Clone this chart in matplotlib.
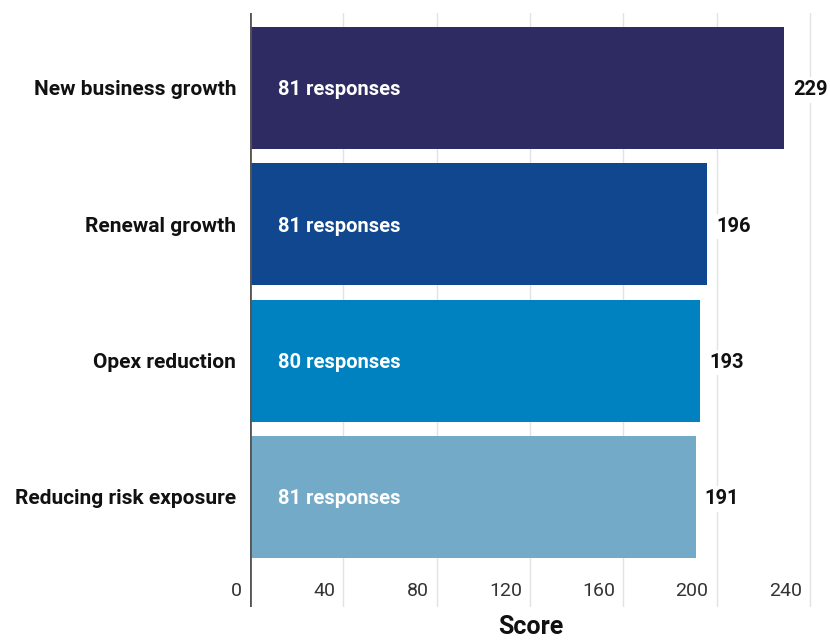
import matplotlib.pyplot as plt
from matplotlib.transforms import offset_copy

plt.rcParams['font.family'] = ['Roboto', 'DejaVu Sans']

categories = ["New business growth", "Renewal growth", "Opex reduction", "Reducing risk exposure"]
scores = [229, 196, 193, 191]
responses = [81, 81, 80, 81]
bar_colors = ["#2d2b62", "#11478e", "#0082c1", "#72aac8"]
xticks = [0, 40, 80, 120, 160, 200, 240]

fig = plt.figure(figsize=(8.3, 6.41), dpi=100)
ax = fig.add_axes([250 / 830, 1 - 607 / 641, 571.6 / 830, 594 / 641])

ypos = list(range(len(categories)))
ax.barh(ypos, scores, height=0.895, color=bar_colors, zorder=2)

ax.set_xlim(0, 245)
ax.set_ylim(3.807, -0.55)

# grid
for t in xticks[1:]:
    ax.axvline(t, color="#e2e2e2", lw=1, zorder=1)
ax.axvline(0, color="#555555", lw=2, zorder=3)

for s in ax.spines.values():
    s.set_visible(False)
ax.set_xticks([])
ax.set_yticks([])

# tick labels, right aligned left of each grid line
tr = offset_copy(ax.get_xaxis_transform(), fig=fig, x=-8, y=0, units="dots")
for t in xticks:
    ax.text(t, (607 - 591) / 594, str(t), transform=tr, ha="right", va="center",
            fontsize=14, fontweight="normal", color="#333333")

# category labels
cat_tr = offset_copy(ax.get_yaxis_transform(), fig=fig, x=-14, y=-2, units="dots")
for y, name in zip(ypos, categories):
    ax.text(0, y, name, transform=cat_tr, ha="right", va="center",
            fontsize=15, fontweight="bold", color="#111111")

# inside labels
in_tr = offset_copy(ax.transData, fig=fig, x=28, y=-2, units="dots")
for y, n in zip(ypos, responses):
    ax.text(0, y, f"{n} responses", transform=in_tr, ha="left", va="center",
            fontsize=14.5, fontweight="bold", color="white", zorder=4)

# value labels
val_tr = offset_copy(ax.transData, fig=fig, x=9, y=-2, units="dots")
for y, v in zip(ypos, scores):
    ax.text(v, y, str(v), transform=val_tr, ha="left", va="center",
            fontsize=14.5, fontweight="bold", color="#111111", zorder=4,
            bbox=dict(boxstyle="square,pad=0.15", fc="white", ec="none"))

fig.text(531 / 830, 1 - 627 / 641, "Score", ha="center", va="center",
         fontsize=18, fontweight="bold", color="#111111")

fig.savefig("out.png", dpi=100)
